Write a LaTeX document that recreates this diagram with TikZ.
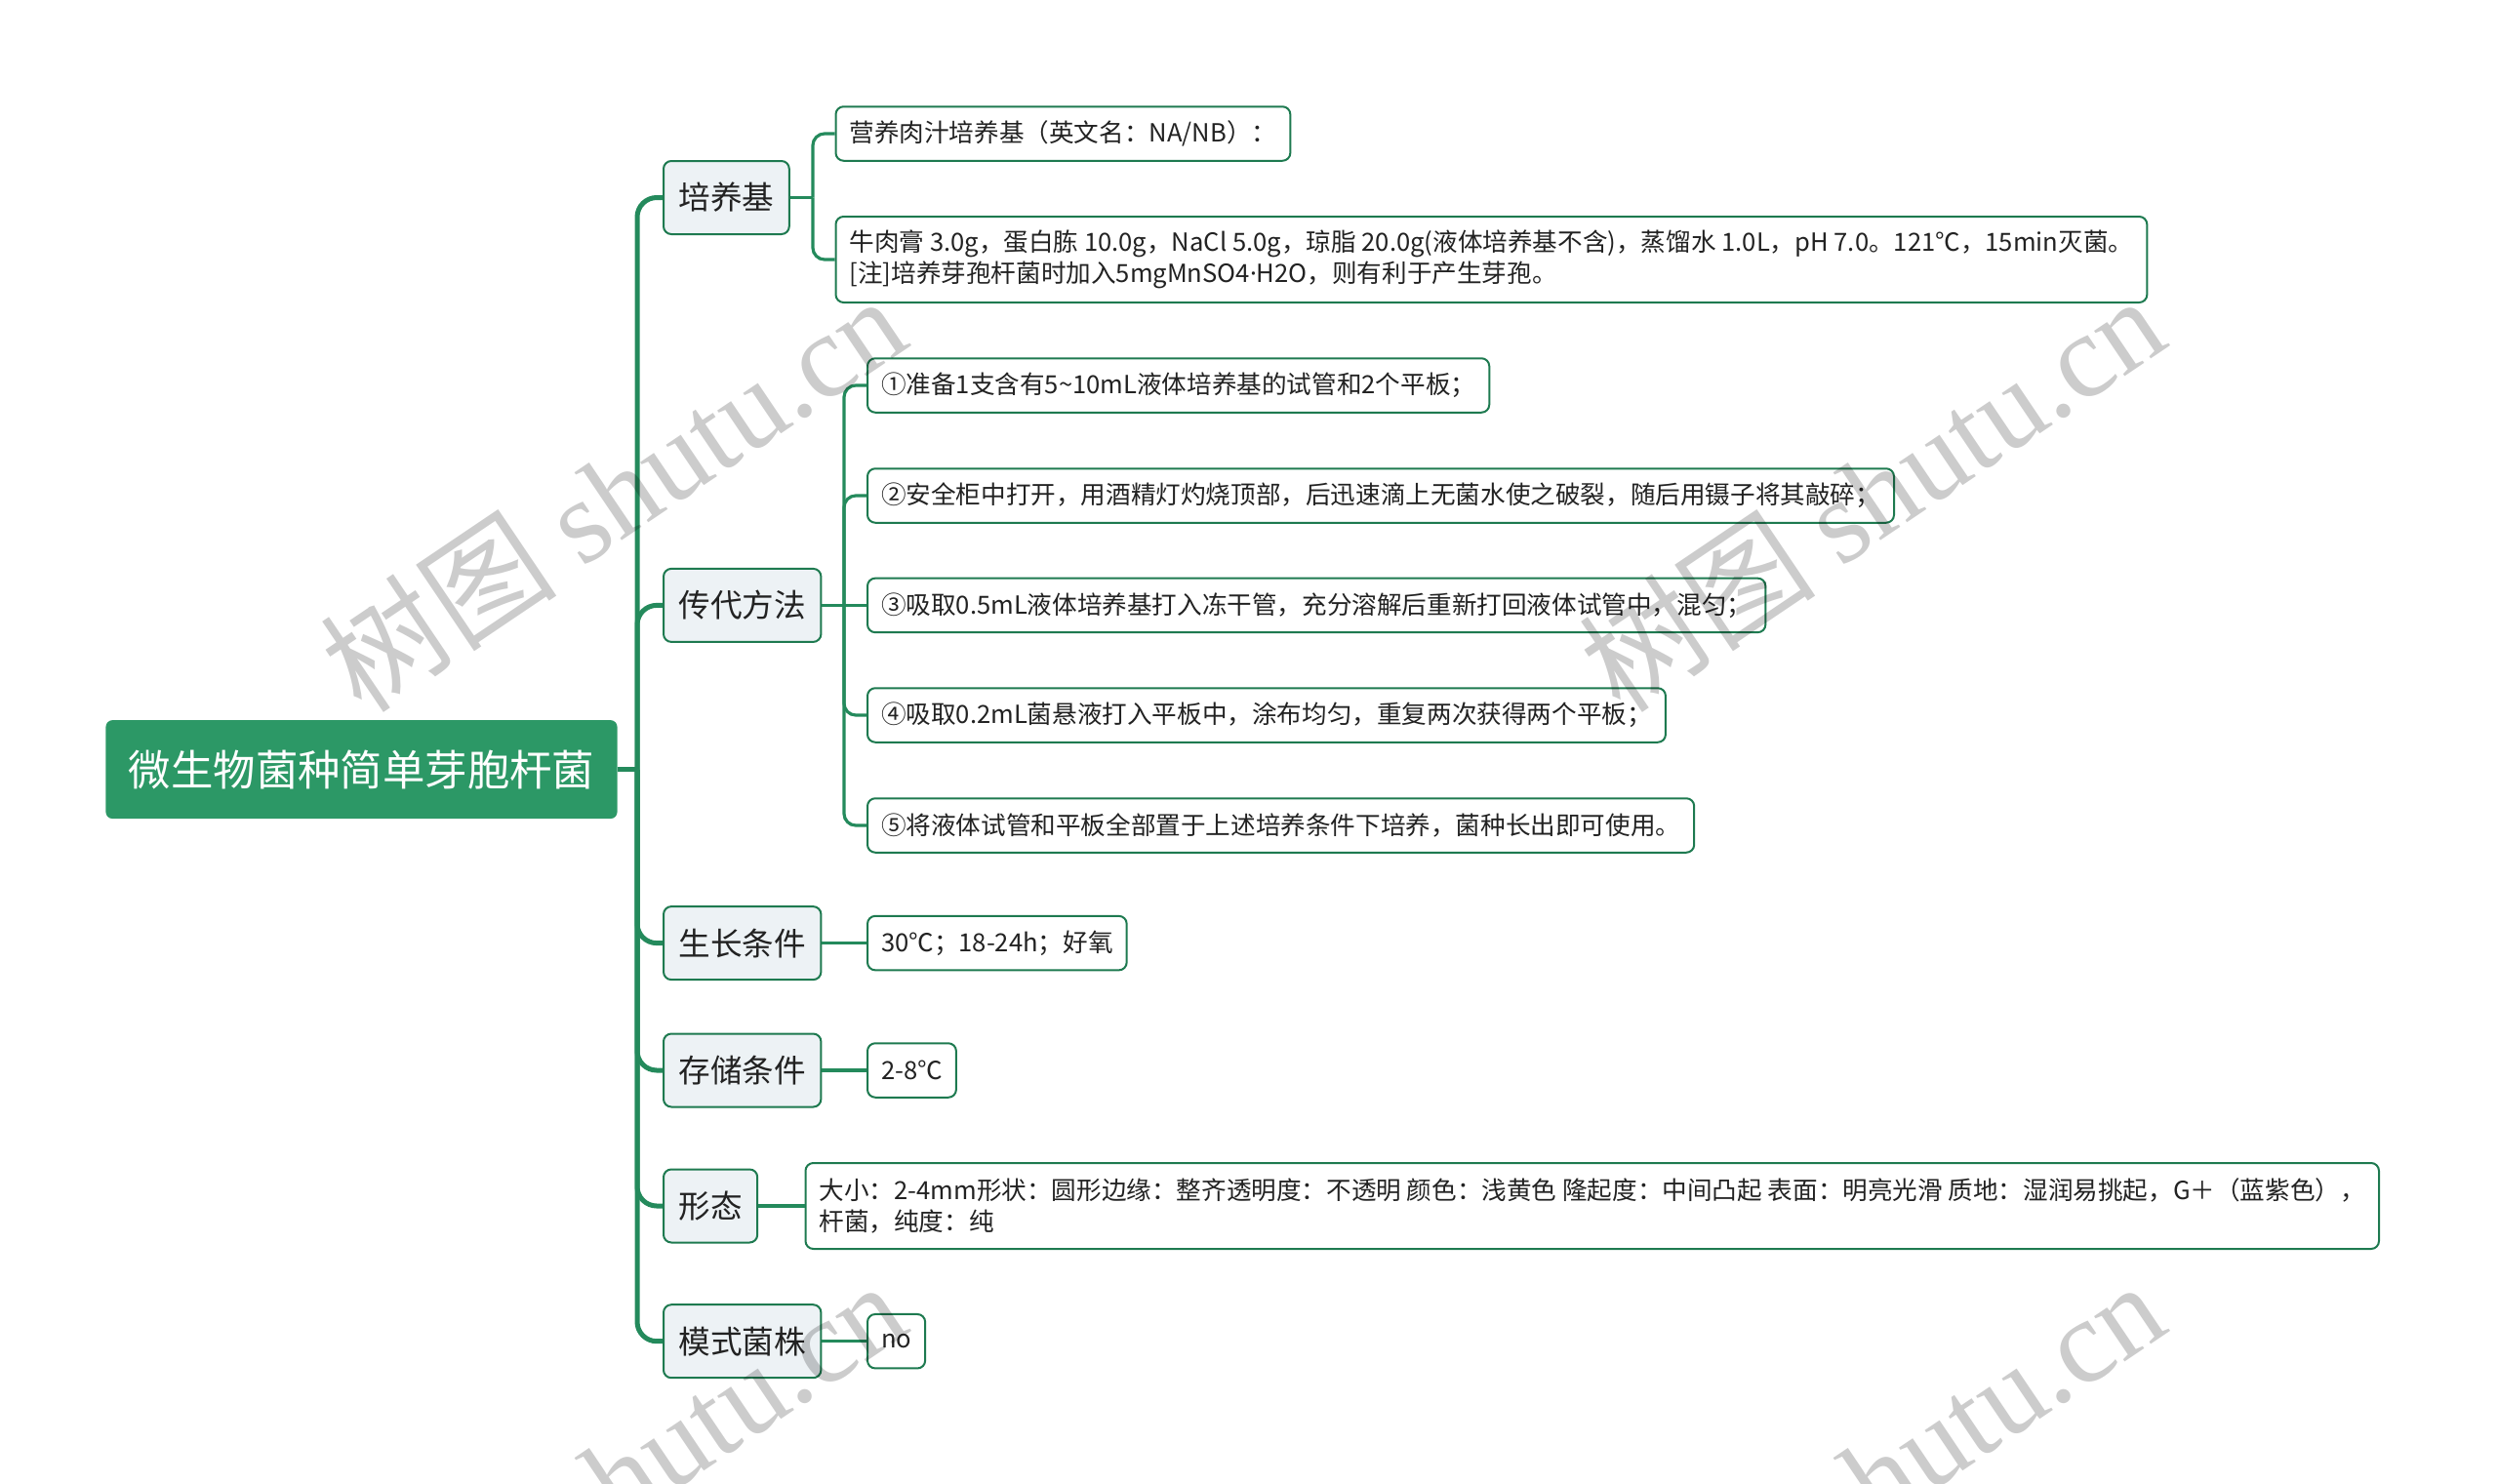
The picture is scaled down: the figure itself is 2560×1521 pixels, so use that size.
\documentclass[tikz,border=0pt]{standalone}
\usepackage{fontspec}
\setmainfont{Noto Sans CJK SC}
\newfontfamily\wmfont{Liberation Serif}
\newfontfamily\latinfont{Noto Sans}
\usepackage{tikz}
\usetikzlibrary{positioning}
\definecolor{rootgreen}{RGB}{44,152,102}
\definecolor{linegreen}{RGB}{36,138,92}
\definecolor{boxgreen}{RGB}{30,122,80}
\definecolor{topicfill}{RGB}{237,242,245}
\definecolor{inkgray}{RGB}{34,34,34}

\begin{document}
\begin{tikzpicture}[x=0.5pt,y=-0.5pt,
	root node/.style={rectangle, rounded corners=3.5pt, fill=rootgreen, text=white, font=\fontsize{21.7}{26}\selectfont, inner xsep=11.7pt, minimum height=50.5pt, anchor=west},
	topic node/.style={rectangle, rounded corners=4pt, draw=boxgreen, line width=1pt, fill=topicfill, text=inkgray, font=\fontsize{16.3}{20}\selectfont, inner xsep=7.75pt, minimum height=37.5pt, anchor=west},
	leaf node/.style={rectangle, rounded corners=4pt, draw=boxgreen, line width=1pt, fill=white, text=inkgray, font=\fontsize{12.8}{16.3}\selectfont, align=left, inner xsep=7pt, minimum height=27.75pt, anchor=west},
	link/.style={draw=linegreen, line width=2.5pt, rounded corners=10pt},
	twig/.style={draw=linegreen, line width=1.6pt, rounded corners=6pt}]
			\useasboundingbox (0,0) rectangle (2560,1521);
			
			% Nodes
			\node[root node] (root) at (108,788.6) {微生物菌种简单芽胞杆菌};
			
			\node[topic node] (py) at (679,202.5) {培养基};
			\node[topic node] (cd) at (679,620.4) {传代方法};
			\node[topic node] (sz) at (679,966.6) {生长条件};
			\node[topic node] (cc) at (679,1097) {存储条件};
			\node[topic node] (xt) at (679,1236) {形态};
			\node[topic node] (ms) at (679,1374.7) {模式菌株};
			
			\node[leaf node] (py1) at (855.5,137) {营养肉汁培养基（英文名：NA/NB）：};
			\node[leaf node, minimum height=44pt] (py2) at (855.5,266) {牛肉膏 3.0g，蛋白胨 10.0g，NaCl 5.0g，琼脂 20.0g(液体培养基不含)，蒸馏水 1.0L，pH 7.0。121℃，15min灭菌。\\{}[注]培养芽孢杆菌时加入5mgMnSO4{\latinfont ·}H2O，则有利于产生芽孢。};
			
			\node[leaf node] (cd1) at (888,395) {①准备1支含有5\textasciitilde10mL液体培养基的试管和2个平板；};
			\node[leaf node] (cd2) at (888,508) {②安全柜中打开，用酒精灯灼烧顶部，后迅速滴上无菌水使之破裂，随后用镊子将其敲碎；};
			\node[leaf node] (cd3) at (888,620.4) {③吸取0.5mL液体培养基打入冻干管，充分溶解后重新打回液体试管中，混匀；};
			\node[leaf node] (cd4) at (888,733) {④吸取0.2mL菌悬液打入平板中，涂布均匀，重复两次获得两个平板；};
			\node[leaf node] (cd5) at (888,846) {⑤将液体试管和平板全部置于上述培养条件下培养，菌种长出即可使用。};
			
			\node[leaf node] (sz1) at (888,966.6) {30℃；18-24h；好氧};
			\node[leaf node] (cc1) at (888,1097) {2-8℃};
			\node[leaf node, minimum height=44pt] (xt1) at (824.5,1236) {大小：2-4mm形状：圆形边缘：整齐透明度：不透明 颜色：浅黄色 隆起度：中间凸起 表面：明亮光滑 质地：湿润易挑起，G＋（蓝紫色），\\杆菌，纯度：纯};
			\node[leaf node] (ms1) at (888,1374.7) {no};
			
			% Connectors
			\coordinate (sp) at (653,788.6);
			\draw[link] (root.east) -- (sp);
			\foreach \t in {py,cd,sz,cc,xt,ms}
			\draw[link] (sp) |- (\t.west);
			
			\coordinate (pyf) at (833,202.5);
			\draw[twig] (py.east) -- (pyf);
			\foreach \l in {py1,py2}
			\draw[twig] (pyf) |- (\l.west);
			
			\coordinate (cdf) at (865,620.4);
			\draw[twig] (cd.east) -- (cdf);
			\foreach \l in {cd1,cd2,cd4,cd5}
			\draw[twig] (cdf) |- (\l.west);
			\draw[twig] (cdf) -- (cd3.west);
			
			\draw[twig] (sz.east) -- (sz1.west);
			\draw[twig] (cc.east) -- (cc1.west);
			\draw[twig] (xt.east) -- (xt1.west);
			\draw[twig] (ms.east) -- (ms1.west);
			
			% watermark
			\begin{scope}
			\clip (0,0) rectangle (2560,1521);
			\foreach \wx/\wy [count=\i] in {628/505, 1918/505, 628/1515, 1918/1515}
			\node[rotate=34, text=black, text opacity=0.2, font=\fontsize{61}{63}\selectfont] (wm\i) at (\wx,\wy) {树图 {\wmfont shutu.cn}};
			\end{scope}
			
\end{tikzpicture}
\end{document}
